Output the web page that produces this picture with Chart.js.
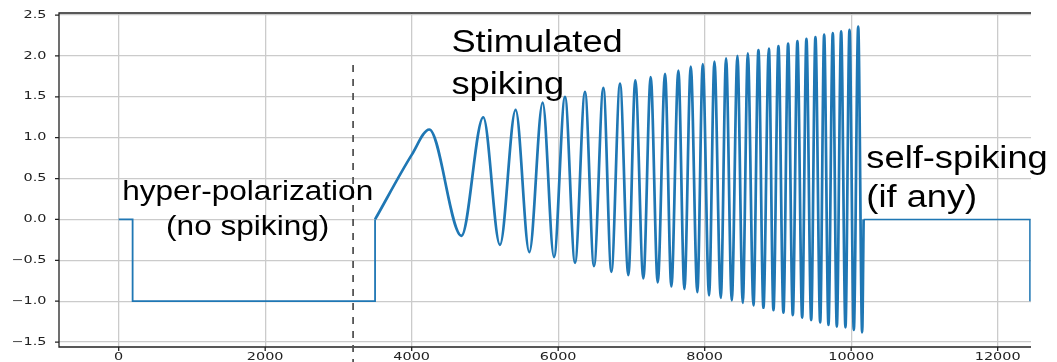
<!DOCTYPE html>
<html>
<head>
<meta charset="utf-8">
<script src="https://cdn.jsdelivr.net/npm/chart.js@4/dist/chart.umd.min.js"></script>
<style>
  html, body { margin: 0; padding: 0; background: #fff; }
</style>
</head>
<body>
<canvas id="chart" width="1057" height="362"></canvas>
<script>
/* ---------- data ---------- */

const xTicks = [0, 2000, 4000, 6000, 8000, 10000, 12000];
const yTicks = [-1.5, -1.0, -0.5, 0.0, 0.5, 1.0, 1.5, 2.0, 2.5];

// hyper-polarization step
const holdX = [0, 190, 190, 3500, 3500];
const holdY = [0, 0, -1, -1, 0];

// stimulated part: ramp, then peaks / troughs of the chirp
const stimX = [3500, 4000, 4240, 4680, 4977, 5205, 5419, 5606, 5788, 5943,
               6093, 6230, 6366, 6489, 6617, 6726, 6844, 6958, 7053, 7163,
               7263, 7359, 7459, 7545, 7641, 7723, 7810, 7900, 7974, 8060,
               8133, 8220, 8292, 8370, 8447, 8520, 8589, 8666, 8734, 8802,
               8876, 8939, 9007, 9075, 9139, 9203, 9266, 9331, 9389, 9454,
               9512, 9577, 9631, 9690, 9749, 9804, 9863, 9922, 9977, 10036,
               10096, 10150, 10170];
const stimY = [0, 0.79, 1.10, -0.20, 1.25, -0.31, 1.34, -0.40, 1.43, -0.46,
               1.50, -0.53, 1.56, -0.57, 1.61, -0.64, 1.66, -0.68, 1.70, -0.72,
               1.74, -0.77, 1.78, -0.82, 1.82, -0.85, 1.87, -0.89, 1.90, -0.93,
               1.93, -0.96, 1.97, -0.99, 2.00, -1.02, 2.03, -1.05, 2.07, -1.08,
               2.09, -1.11, 2.12, -1.14, 2.15, -1.17, 2.18, -1.20, 2.21, -1.23,
               2.23, -1.26, 2.26, -1.29, 2.28, -1.31, 2.30, -1.32, 2.32, -1.35,
               2.36, -1.38, 0];

// after the stimulus
const restX = [10170, 12440, 12440];
const restY = [0, 0, -1];

// dashed marker
const markerX = [3200];
const markerTop = [1.89];

/* ---------- helpers ---------- */

const toPoints = (xs, ys) => xs.map((x, i) => ({ x: x, y: ys[i] }));
const BLUE = '#1f77b4';

function stretchText(ctx, text, x, y, sx, align) {
    ctx.save();
    ctx.translate(x, y);
    ctx.scale(sx, 1);
    ctx.textAlign = align;
    ctx.fillText(text, 0, 0);
    ctx.restore();
}

const notes = [
    { text: 'hyper-polarization', x: 1761, y: 0.243, size: 27, align: 'center' },
    { text: '(no spiking)',       x: 1761, y: -0.193, size: 27, align: 'center' },
    { text: 'Stimulated',         x: 4542, y: 2.044, size: 31, align: 'left' },
    { text: 'spiking',            x: 4542, y: 1.531, size: 31, align: 'left' },
    { text: 'self-spiking',       x: 10207, y: 0.626, size: 31, align: 'left' },
    { text: '(if any)',           x: 10207, y: 0.149, size: 31, align: 'left' }
];

const decorations = {
    id: 'decorations',
    afterDraw(chart) {
        const ctx = chart.ctx;
        const area = chart.chartArea;
        const xs = chart.scales.x;
        const ys = chart.scales.y;

        // spines (right one is cropped away in the original)
        ctx.save();
        ctx.strokeStyle = '#222';
        ctx.lineWidth = 1.3;
        ctx.beginPath();
        ctx.moveTo(area.right, area.top);
        ctx.lineTo(area.left, area.top);
        ctx.lineTo(area.left, area.bottom);
        ctx.lineTo(area.right, area.bottom);
        ctx.stroke();

        // tick marks
        ctx.beginPath();
        xTicks.forEach(v => {
            const px = xs.getPixelForValue(v);
            ctx.moveTo(px, area.bottom);
            ctx.lineTo(px, area.bottom + 4);
        });
        yTicks.forEach(v => {
            const py = ys.getPixelForValue(v);
            ctx.moveTo(area.left - 4, py);
            ctx.lineTo(area.left, py);
        });
        ctx.stroke();

        // tick labels
        ctx.fillStyle = '#222';
        ctx.font = '10px "DejaVu Sans"';
        ctx.textBaseline = 'middle';
        xTicks.forEach(v => {
            stretchText(ctx, String(v), xs.getPixelForValue(v), area.bottom + 10.5, 1.44, 'center');
        });
        yTicks.forEach(v => {
            const label = v.toFixed(1).replace('-', '\u2212');
            stretchText(ctx, label, area.left - 12.5, ys.getPixelForValue(v), 1.44, 'right');
        });

        // dashed marker line
        ctx.strokeStyle = '#555';
        ctx.lineWidth = 1.8;
        ctx.setLineDash([7, 7]);
        ctx.beginPath();
        markerX.forEach((v, i) => {
            const px = xs.getPixelForValue(v);
            ctx.moveTo(px, ys.getPixelForValue(markerTop[i]));
            ctx.lineTo(px, chart.height);
        });
        ctx.stroke();
        ctx.setLineDash([]);

        // annotations
        ctx.fillStyle = '#000';
        ctx.textBaseline = 'alphabetic';
        notes.forEach(n => {
            ctx.font = n.size + 'px "Liberation Sans", Arial, sans-serif';
            stretchText(ctx, n.text, xs.getPixelForValue(n.x), ys.getPixelForValue(n.y), 1.17, n.align);
        });
        ctx.restore();
    }
};

/* ---------- chart ---------- */

const chart = new Chart(document.getElementById('chart'), {
    type: 'line',
    data: {
        datasets: [
            {
                data: toPoints(holdX, holdY),
                borderColor: BLUE,
                borderWidth: 1.8,
                pointRadius: 0,
                tension: 0
            },
            {
                data: toPoints(stimX, stimY),
                borderColor: BLUE,
                borderWidth: 2.7,
                pointRadius: 0,
                cubicInterpolationMode: 'monotone'
            },
            {
                data: toPoints(restX, restY),
                borderColor: BLUE,
                borderWidth: 1.5,
                pointRadius: 0,
                tension: 0
            }
        ]
    },
    options: {
        responsive: false,
        animation: false,
        layout: {
            padding: { left: 59, top: 13, right: 26, bottom: 15 }
        },
        scales: {
            x: {
                type: 'linear',
                min: -815,
                max: 12455,
                afterBuildTicks: scale => { scale.ticks = xTicks.map(v => ({ value: v })); },
                ticks: { display: false },
                grid: { color: '#cbcbcb', lineWidth: 1.3, drawTicks: false },
                border: { display: false }
            },
            y: {
                type: 'linear',
                min: -1.56,
                max: 2.525,
                afterBuildTicks: scale => { scale.ticks = yTicks.map(v => ({ value: v })); },
                ticks: { display: false },
                grid: { color: '#cbcbcb', lineWidth: 1.3, drawTicks: false },
                border: { display: false }
            }
        },
        plugins: {
            legend: { display: false },
            tooltip: { enabled: false }
        }
    },
    plugins: [decorations]
});
</script>
</body>
</html>
